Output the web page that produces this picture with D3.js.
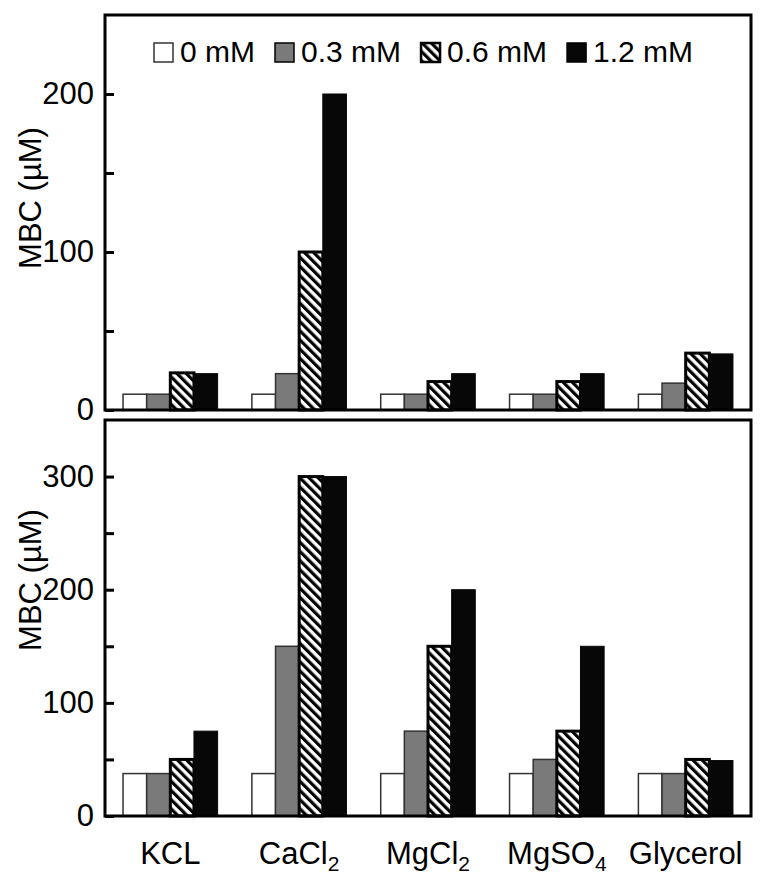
<!DOCTYPE html>
<html>
<head>
<meta charset="utf-8">
<script src="https://cdn.jsdelivr.net/npm/d3@7"></script>
<style>
  body { margin: 0; background: #fff; }
  text { font-family: "Liberation Sans", Arial, Helvetica, sans-serif; fill: #000; }
</style>
</head>
<body>
<div id="chart"></div>
<script>
var W = 768, H = 882;

// data
var categories = ["KCL", "CaCl2", "MgCl2", "MgSO4", "Glycerol"];
var series = ["0 mM", "0.3 mM", "0.6 mM", "1.2 mM"];
// top panel, MBC (uM)
var topVals = [
  [10, 10, 23.5, 23],
  [10, 23, 100, 200],
  [10, 10, 18, 23],
  [10, 10, 18, 23],
  [10, 17, 36, 35.5]
];
// bottom panel, MBC (uM)
var bottomVals = [
  [37.5, 37.5, 50, 75],
  [37.5, 150, 300, 300],
  [37.5, 75, 150, 200],
  [37.5, 50, 75, 150],
  [37.5, 37.5, 50, 49]
];
var topTicks = [0, 50, 100, 150, 200, 250];
var bottomTicks = [0, 50, 100, 150, 200, 250, 300, 350];

var left = 105, right = 751;

var svg = d3.select("#chart").append("svg")
    .attr("width", W)
    .attr("height", H);

// hatch for 0.6 mM
var pat = svg.append("defs").append("pattern")
    .attr("id", "hatch")
    .attr("patternUnits", "userSpaceOnUse")
    .attr("width", 6.5)
    .attr("height", 6.5)
    .attr("patternTransform", "rotate(-45)");
pat.append("rect").attr("width", 6.5).attr("height", 6.5).attr("fill", "#fff");
pat.append("rect").attr("width", 3.2).attr("height", 6.5).attr("fill", "#000");

var fills = ["#fff", "#7a7a7a", "url(#hatch)", "#070707"];
var strokes = ["#333", "#333", "#000", "#070707"];
var strokeW = [1.5, 1.5, 3, 1];

var x0 = d3.scaleBand()
    .domain(categories)
    .range([left, right])
    .paddingInner(0.266)
    .paddingOuter(0.14);

var x1 = d3.scaleBand()
    .domain(d3.range(series.length))
    .range([0, x0.bandwidth()]);

function panel(vals, ticks, yTop, yBot, labelY) {
  var y = d3.scaleLinear()
      .domain([0, d3.max(ticks)])
      .range([yBot, yTop]);

  var g = svg.append("g");

  var groups = g.selectAll("g.grp")
      .data(vals)
    .enter().append("g")
      .attr("class", "grp")
      .attr("transform", function(d, i) { return "translate(" + x0(categories[i]) + ",0)"; });

  groups.selectAll("rect")
      .data(function(d) { return d; })
    .enter().append("rect")
      .attr("x", function(d, j) { return x1(j); })
      .attr("y", function(d) { return y(d); })
      .attr("width", x1.bandwidth())
      .attr("height", function(d) { return y(0) - y(d); })
      .attr("fill", function(d, j) { return fills[j]; })
      .attr("stroke", function(d, j) { return strokes[j]; })
      .attr("stroke-width", function(d, j) { return strokeW[j]; });

  var axis = d3.axisLeft(y)
      .tickValues(ticks.filter(function(t) { return t < d3.max(ticks); }))
      .tickSizeInner(-9)
      .tickSizeOuter(0)
      .tickPadding(11);

  var ax = g.append("g")
      .attr("transform", "translate(" + left + ",0)")
      .call(axis);
  ax.select(".domain").remove();
  ax.selectAll("line").attr("stroke", "#000").attr("stroke-width", 3);
  ax.selectAll(".tick text").filter(function(d) { return d % 100 !== 0; }).remove();
  ax.selectAll("text")
      .style("font-size", "31px")
      .style("font-family", "'Liberation Sans', Arial, sans-serif");

  // frame
  g.append("rect")
      .attr("x", left)
      .attr("y", yTop)
      .attr("width", right - left)
      .attr("height", yBot - yTop)
      .attr("fill", "none")
      .attr("stroke", "#000")
      .attr("stroke-width", 3);

  g.append("text")
      .attr("transform", "translate(30," + labelY + ") rotate(-90)")
      .attr("text-anchor", "middle")
      .attr("dominant-baseline", "central")
      .style("font-size", "31px")
      .text("MBC (\u00b5M)");
}

panel(topVals, topTicks, 15, 410, 198);
panel(bottomVals, bottomTicks, 420, 816, 580);

// category labels, digits as subscripts
var xl = svg.append("g").selectAll("text")
    .data(categories)
  .enter().append("text")
    .attr("x", function(d) { return x0(d) + x0.bandwidth() / 2; })
    .attr("y", 864)
    .attr("text-anchor", "middle")
    .style("font-size", "31px");

xl.each(function(d) {
  var t = d3.select(this);
  var m = d.match(/^(.*?)(\d*)$/);
  t.append("tspan").text(m[1]);
  if (m[2]) t.append("tspan").attr("dy", 7).style("font-size", "21px").text(m[2]);
});

// legend
var lg = svg.append("g");
var lx = 154, boxS = 19, ly = 43;
series.forEach(function(s, i) {
  lg.append("rect")
      .attr("x", lx)
      .attr("y", ly)
      .attr("width", boxS)
      .attr("height", boxS)
      .attr("fill", fills[i])
      .attr("stroke", i === 0 ? "#333" : "#000")
      .attr("stroke-width", i === 2 ? 2.5 : 1.5);
  var t = lg.append("text")
      .attr("x", lx + boxS + 7)
      .attr("y", ly + 19)
      .style("font-size", "30px")
      .text(s);
  lx = lx + boxS + 7 + t.node().getComputedTextLength() + 20;
});
</script>
</body>
</html>
